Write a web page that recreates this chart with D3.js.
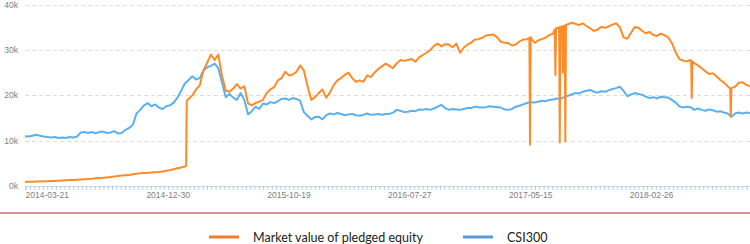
<!DOCTYPE html>
<html>
<head>
<meta charset="utf-8">
<script src="https://cdn.jsdelivr.net/npm/d3@7"></script>
<style>
  body { margin: 0; background: #fff; }
  svg { display: block; }
</style>
</head>
<body>
<script>
// trading-day index of each x-axis label
const tickLabels = ['2014-03-21', '2014-12-30', '2015-10-19', '2016-07-27', '2017-05-15', '2018-02-26'];
const labelDays = [36, 231, 426, 621, 816, 1011];
const lastDay = 1170;
const sampleStep = 6; // values below are read every 6 trading days

// market value of pledged equity (thousands)
const pledged = [
  0.9, 0.95, 0.95, 1.0, 1.0, 1.05, 1.05, 1.1, 1.1, 1.15,
  1.2, 1.25, 1.3, 1.35, 1.4, 1.45, 1.5, 1.55, 1.6, 1.7,
  1.75, 1.8, 1.9, 2.0, 2.1, 2.2, 2.3, 2.35, 2.4, 2.6,
  2.7, 2.8, 2.85, 2.9, 3.0, 3.05, 3.1, 3.2, 3.35, 3.5,
  3.7, 3.9, 4.1, 4.3, 19.2, 20.0, 21.3, 22.2, 25.5, 27.2,
  29.0, 27.8, 29.0, 24.2, 21.0, 20.8, 21.5, 22.5, 21.5, 22.0,
  18.2, 17.8, 18.3, 18.6, 19.0, 20.5, 21.3, 21.8, 23.3, 23.8,
  25.2, 24.4, 24.6, 25.2, 26.6, 25.5, 22.0, 19.0, 19.6, 20.5,
  21.3, 19.5, 20.6, 22.2, 23.3, 23.8, 24.5, 25.0, 23.8, 23.0,
  23.3, 23.0, 24.4, 24.0, 25.0, 25.8, 26.4, 27.0, 26.5, 26.0,
  27.1, 27.8, 27.6, 27.8, 28.0, 27.4, 28.4, 28.9, 29.4, 30.0,
  30.9, 31.4, 30.8, 31.3, 31.2, 30.6, 31.4, 29.4, 30.5, 31.2,
  31.6, 32.3, 32.4, 32.7, 33.2, 33.3, 33.4, 32.8, 31.8, 31.6,
  31.5, 31.0, 31.2, 31.9, 32.3, 32.4, 32.8, 31.6, 32.1, 32.4,
  32.7, 33.3, 33.6, 34.8, 35.0, 35.3, 35.7, 36.0, 35.8, 35.5,
  35.9, 35.3, 34.8, 34.2, 34.5, 35.1, 34.9, 35.2, 35.6, 35.9,
  35.0, 32.8, 32.5, 33.8, 35.1, 34.9, 34.2, 33.7, 34.0, 33.3,
  33.1, 33.6, 33.3, 32.8, 31.5, 29.5, 28.0, 27.7, 27.5, 27.8,
  27.1, 26.6, 26.0, 25.3, 24.7, 24.9, 24.2, 23.4, 22.8, 22.0,
  21.4, 21.9, 22.8, 22.9, 22.3, 22.0
];

// single-day readings of pledged value: the jump and the one-day dips
const pledgedDaily = [
  [260, 4.4], [261, 18.8],
  [814, 32.7], [815, 9.1], [816, 32.8],
  [855, 34.6], [856, 24.5], [857, 34.8],
  [862, 35.0], [863, 9.6], [864, 35.1],
  [867, 35.2], [868, 25.0], [869, 35.3],
  [871, 35.4], [872, 9.8], [873, 35.5],
  [1075, 27.7], [1076, 19.4], [1077, 27.5],
  [1138, 21.5], [1139, 15.3], [1140, 21.6]
];

// CSI300 (thousands)
const csi300 = [
  11.0, 10.9, 11.1, 11.3, 11.1, 10.9, 10.8, 10.7, 10.8, 10.6,
  10.7, 10.6, 10.8, 10.7, 10.9, 11.8, 11.9, 11.7, 11.9, 11.6,
  11.9, 12.0, 11.7, 11.8, 12.1, 11.6, 11.7, 12.4, 12.8, 13.5,
  16.0, 16.8, 17.8, 18.3, 17.6, 18.0, 17.3, 17.0, 17.6, 17.8,
  18.4, 19.5, 21.0, 22.6, 23.4, 24.2, 23.5, 23.8, 25.5, 26.2,
  26.5, 27.0, 26.0, 22.7, 19.6, 20.3, 19.5, 19.0, 20.5, 19.0,
  15.8, 16.5, 17.5, 17.0, 18.2, 18.0, 18.5, 18.3, 18.7, 19.2,
  19.3, 19.0, 19.4, 19.2, 18.8, 16.3, 15.5, 14.7, 15.2, 15.3,
  14.7, 15.6, 16.0, 15.8, 16.1, 15.9, 15.6, 15.8, 15.9, 15.6,
  15.5, 15.7, 16.0, 15.7, 15.8, 15.9, 15.7, 15.9, 15.9, 16.2,
  16.8, 16.6, 16.3, 16.4, 16.6, 16.5, 16.9, 16.8, 17.0, 16.8,
  17.1, 17.5, 17.9, 17.2, 16.8, 17.0, 16.9, 16.8, 17.0, 17.2,
  17.2, 17.5, 17.4, 17.3, 17.4, 17.6, 17.5, 17.4, 17.3, 16.9,
  16.8, 17.0, 17.5, 17.7, 18.0, 18.3, 18.5, 18.4, 18.6, 18.8,
  18.7, 19.0, 19.1, 19.3, 19.2, 19.6, 19.9, 20.2, 20.5, 20.4,
  20.8, 21.0, 21.2, 20.8, 20.6, 20.9, 20.8, 21.1, 21.4, 21.6,
  21.9, 21.0, 19.8, 20.2, 20.5, 20.3, 20.1, 19.7, 19.4, 19.6,
  19.3, 19.7, 19.6, 19.5, 19.0, 18.4, 17.6, 17.3, 17.5, 17.4,
  16.8, 17.1, 16.8, 16.6, 16.9, 16.7, 16.4, 16.5, 16.2, 16.0,
  15.3, 16.0, 16.2, 16.0, 16.2, 16.1
];

const yTicks = [0, 10, 20, 30, 40];
const seriesNames = ['Market value of pledged equity', 'CSI300'];

const w = 750, h = 244;
const orange = '#fd8b27', blue = '#5ab1ef';

const svg = d3.select('body').append('svg').attr('width', w).attr('height', h);

const xScale = d3.scaleLinear().domain([0, lastDay]).range([25, 750]);
const yScale = d3.scaleLinear().domain([0, 40]).range([186, 4.7]);

// grid + y labels
svg.append('g')
   .selectAll('line')
   .data(yTicks)
   .enter()
   .append('line')
   .attr('x1', 25).attr('x2', w)
   .attr('y1', d => Math.round(yScale(d)) + 0.5)
   .attr('y2', d => Math.round(yScale(d)) + 0.5)
   .attr('stroke', '#dcdcdc')
   .attr('stroke-dasharray', '4,3');

svg.append('g')
   .selectAll('text')
   .data(yTicks)
   .enter()
   .append('text')
   .attr('x', 18)
   .attr('y', d => yScale(d) + 3)
   .attr('text-anchor', 'end')
   .style('font', '8.5px "Liberation Sans", Arial, sans-serif')
   .style('fill', '#808080')
   .text(d => d + 'k');

// x axis: line, dense ticks, labels
const tickGap = 195 / 28;
const tickDays = d3.range(36 % tickGap, lastDay + 1, tickGap);
const xAxis = d3.axisBottom(xScale).tickValues(tickDays).tickSize(4).tickFormat('');
const gx = svg.append('g').attr('transform', 'translate(0,186)').call(xAxis);
gx.select('.domain').attr('stroke', '#c2d9ea');
gx.selectAll('.tick line').attr('stroke', '#b3cfe4');

svg.append('g')
   .selectAll('text')
   .data(labelDays)
   .enter()
   .append('text')
   .attr('x', d => xScale(d))
   .attr('y', 198)
   .attr('text-anchor', 'middle')
   .style('font', '8.5px "Liberation Sans", Arial, sans-serif')
   .style('fill', '#808080')
   .text((d, i) => tickLabels[i]);

// series
const byDay = new Map();
pledged.forEach((v, i) => byDay.set(i * sampleStep, v));
pledgedDaily.forEach(([d, v]) => byDay.set(d, v));
const pledgedPts = Array.from(byDay).sort((a, b) => a[0] - b[0]);
const csiPts = csi300.map((v, i) => [i * sampleStep, v]);

const line = d3.line().x(d => xScale(d[0])).y(d => yScale(d[1]));

svg.append('path').datum(csiPts)
   .attr('d', line).attr('fill', 'none')
   .attr('stroke', blue).attr('stroke-width', 2).attr('stroke-linejoin', 'round');
svg.append('path').datum(pledgedPts)
   .attr('d', line).attr('fill', 'none')
   .attr('stroke', orange).attr('stroke-width', 2).attr('stroke-linejoin', 'round');

// red rule
svg.append('line').attr('x1', 0).attr('x2', w).attr('y1', 213).attr('y2', 213)
   .attr('stroke', '#d9646c').attr('stroke-width', 1.5);

// legend
const legend = svg.append('g');
const legendX = [209, 463];
const legendColors = ['#ed7d31', '#5b9bd5'];
legend.selectAll('line')
      .data(seriesNames)
      .enter()
      .append('line')
      .attr('x1', (d, i) => legendX[i]).attr('x2', (d, i) => legendX[i] + 30)
      .attr('y1', 237).attr('y2', 237)
      .attr('stroke', (d, i) => legendColors[i]).attr('stroke-width', 3);
legend.selectAll('text')
      .data(seriesNames)
      .enter()
      .append('text')
      .attr('x', (d, i) => legendX[i] + 44)
      .attr('y', 242)
      .style('font', '12.5px Lato, "Open Sans", sans-serif')
      .style('fill', '#222')
      .text(d => d);
</script>
</body>
</html>
